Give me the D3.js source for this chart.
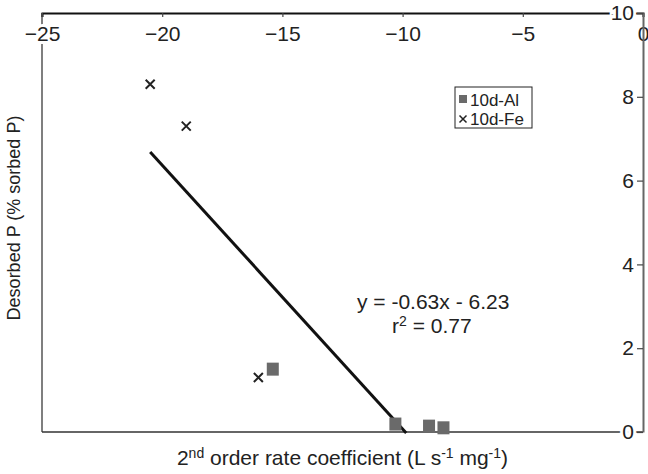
<!DOCTYPE html>
<html>
<head>
<meta charset="utf-8">
<script src="https://cdn.jsdelivr.net/npm/d3@7"></script>
<style>
  body { margin: 0; background: #fff; }
  text { font-family: "Liberation Sans", Arial, sans-serif; fill: #222; }
</style>
</head>
<body>
<div class="chart"></div>
<script>
const width = 648
const height = 474

// series values
const alX = [-15.4, -10.3, -8.9, -8.3]
const alY = [1.5, 0.19, 0.14, 0.1]
const feX = [-20.5, -19.0, -16.0]
const feY = [8.3, 7.3, 1.3]

// regression line as printed on the chart
const trendSlope = -0.63
const trendIntercept = -6.23
const trendX = [-20.5, -9.85]

const xTicks = [-25, -20, -15, -10, -5, 0]
const yTicks = [0, 2, 4, 6, 8, 10]

const x = d3.scaleLinear().domain([-25, 0]).range([42, 643])
const y = d3.scaleLinear().domain([0, 10]).range([432, 13])

const svg = d3.select(".chart")
    .append("svg")
    .attr("width", width)
    .attr("height", height)

// left and bottom frame lines
svg.append("line")
    .attr("x1", x(-25)).attr("x2", x(-25))
    .attr("y1", y(10)).attr("y2", y(0))
    .attr("stroke", "#555").attr("stroke-width", 1.5)
svg.append("line")
    .attr("x1", x(-25)).attr("x2", x(0))
    .attr("y1", y(0)).attr("y2", y(0))
    .attr("stroke", "#333").attr("stroke-width", 1.5)

// right y axis, labels on the inside
const yAxis = svg.append("g")
    .attr("transform", `translate(${x(0)}, 0)`)
    .call(d3.axisLeft(y).tickValues(yTicks).tickSize(6).tickPadding(3).tickSizeOuter(0))
yAxis.select(".domain").attr("stroke", "#666").attr("stroke-width", 2)
yAxis.selectAll(".tick line").attr("stroke", "#444").attr("stroke-width", 1.2)

// top x axis, labels below the line
const xAxis = svg.append("g")
    .attr("transform", `translate(0, ${y(10)})`)
    .call(d3.axisBottom(x).tickValues(xTicks).tickSize(4).tickPadding(9).tickSizeOuter(4))
xAxis.select(".domain").attr("stroke", "#111").attr("stroke-width", 2)
xAxis.selectAll(".tick line").attr("stroke", "#444").attr("stroke-width", 1.2)

svg.selectAll(".tick text")
    .attr("font-size", 21)
    .attr("font-family", "Liberation Sans, Arial, sans-serif")
    .attr("fill", "#222")
    .attr("stroke", "#fff")
    .attr("stroke-width", 6)
    .attr("paint-order", "stroke")
yAxis.raise()

// trend line
const line = d3.line()
    .x(d => x(d))
    .y(d => y(trendSlope * d + trendIntercept))
svg.append("path")
    .attr("d", line(trendX))
    .attr("fill", "none")
    .attr("stroke", "#111")
    .attr("stroke-width", 3)

// 10d-Al squares
svg.selectAll("rect.al")
    .data(d3.zip(alX, alY))
    .join("rect")
    .attr("class", "al")
    .attr("x", d => x(d[0]) - 6)
    .attr("y", d => y(d[1]) - 6.5)
    .attr("width", 12)
    .attr("height", 13)
    .attr("fill", "#6a6a6a")

// 10d-Fe crosses
const cross = s => `M${-s},${-s}L${s},${s}M${-s},${s}L${s},${-s}`
svg.selectAll("path.fe")
    .data(d3.zip(feX, feY))
    .join("path")
    .attr("class", "fe")
    .attr("transform", d => `translate(${x(d[0])}, ${y(d[1])})`)
    .attr("d", cross(4.5))
    .attr("stroke", "#222")
    .attr("stroke-width", 2)

// legend
const legend = svg.append("g").attr("transform", "translate(455, 87)")
legend.append("rect")
    .attr("width", 77).attr("height", 41)
    .attr("fill", "#fff").attr("stroke", "#222").attr("stroke-width", 1)
legend.append("rect")
    .attr("x", 4).attr("y", 8).attr("width", 8).attr("height", 8)
    .attr("fill", "#6a6a6a")
legend.append("path")
    .attr("transform", "translate(8, 32)")
    .attr("d", cross(3.5))
    .attr("stroke", "#222").attr("stroke-width", 1.5)
legend.append("text").attr("x", 15).attr("y", 19).attr("font-size", 17).text("10d-Al")
legend.append("text").attr("x", 15).attr("y", 38).attr("font-size", 17).text("10d-Fe")

// equation
svg.append("text")
    .attr("x", 357).attr("y", 309)
    .attr("font-size", 21)
    .text("y = -0.63x - 6.23")
const r2 = svg.append("text")
    .attr("x", 392).attr("y", 333)
    .attr("font-size", 21)
r2.append("tspan").text("r")
r2.append("tspan").attr("dy", -7).attr("font-size", 14).text("2")
r2.append("tspan").attr("dy", 7).text(" = 0.77")

// axis titles
const xt = svg.append("text")
    .attr("x", (x(-25) + x(0)) / 2).attr("y", 465)
    .attr("text-anchor", "middle").attr("font-size", 21)
xt.append("tspan").text("2")
xt.append("tspan").attr("dy", -7).attr("font-size", 14).text("nd")
xt.append("tspan").attr("dy", 7).text(" order rate coefficient (L s")
xt.append("tspan").attr("dy", -7).attr("font-size", 14).text("-1")
xt.append("tspan").attr("dy", 7).text(" mg")
xt.append("tspan").attr("dy", -7).attr("font-size", 14).text("-1")
xt.append("tspan").attr("dy", 7).text(")")

svg.append("text")
    .attr("transform", "translate(20, 218) rotate(-90)")
    .attr("text-anchor", "middle").attr("font-size", 18)
    .text("Desorbed P (% sorbed P)")
</script>
</body>
</html>
